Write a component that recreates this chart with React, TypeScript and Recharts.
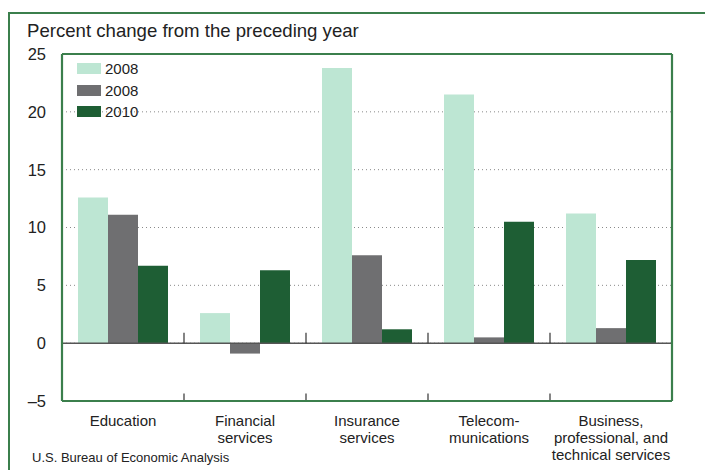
import React from "react";
import {
  BarChart,
  Bar,
  XAxis,
  YAxis,
  CartesianGrid,
  ReferenceLine,
  Legend,
} from "recharts";

const CATEGORIES = [
  "Education",
  "Financial\nservices",
  "Insurance\nservices",
  "Telecom-\nmunications",
  "Business,\nprofessional, and\ntechnical services",
];

const SERIES_A = [12.6, 2.6, 23.8, 21.5, 11.2]; // 2008 (light)
const SERIES_B = [11.1, -0.9, 7.6, 0.5, 1.3]; // 2008 (gray)
const SERIES_C = [6.7, 6.3, 1.2, 10.5, 7.2]; // 2010

const Y_TICKS = [-5, 0, 5, 10, 15, 20, 25];

const SERIES = [
  { key: "a", name: "2008", color: "#bde6d3" },
  { key: "b", name: "2008", color: "#6f6f71" },
  { key: "c", name: "2010", color: "#1e5e34" },
];

const FRAME = "#3b7f4c";
const TEXT = "#222";
const FONT = '"Liberation Sans", Arial, sans-serif';

const data = CATEGORIES.map((name, i) => ({
  name,
  a: SERIES_A[i],
  b: SERIES_B[i],
  c: SERIES_C[i],
}));

const FIRST = CATEGORIES[0];
const LAST = CATEGORIES[CATEGORIES.length - 1];

const CatTick = (props: any) => {
  const { x, y, payload } = props;
  const lines = String(payload.value).split("\n");
  return (
    <text x={x} y={y} textAnchor="middle" fill={TEXT} fontSize={15} fontFamily={FONT}>
      {lines.map((l, i) => (
        <tspan key={i} x={x} dy={i === 0 ? 25 : 17}>
          {l}
        </tspan>
      ))}
    </text>
  );
};

const renderLegend = () => (
  <div style={{ fontFamily: FONT, fontSize: 15, color: TEXT }}>
    {SERIES.map((s, i) => (
      <div
        key={i}
        style={{ display: "flex", alignItems: "center", height: 21.5 }}
      >
        <span
          style={{
            display: "inline-block",
            width: 24,
            height: 11,
            background: s.color,
            marginRight: 4,
          }}
        />
        <span>{s.name}</span>
      </div>
    ))}
  </div>
);

export default function App() {
  return (
    <div
      style={{
        position: "absolute",
        left: 0,
        top: 0,
        width: 705,
        height: 470,
        overflow: "hidden",
        background: "#fff",
        fontFamily: FONT,
      }}
    >
      <div
        style={{
          position: "absolute",
          left: 8,
          top: 12,
          width: 760,
          height: 520,
          border: `2px solid ${FRAME}`,
        }}
      />
      <div style={{ position: "absolute", left: 0, top: 0 }}>
        <BarChart
          width={705}
          height={470}
          data={data}
          margin={{ top: 54, right: 33, bottom: 0, left: 0 }}
          barCategoryGap={16}
          barGap={0}
        >
          <CartesianGrid
            vertical={false}
            stroke="#8a8a8a"
            strokeDasharray="1 3"
          />
          <XAxis
            dataKey="name"
            height={69}
            interval={0}
            tickLine={false}
            tickSize={0}
            tickMargin={0}
            tick={<CatTick />}
            axisLine={false}
          />
          <YAxis
            width={62}
            domain={[-5, 25]}
            ticks={Y_TICKS}
            interval={0}
            tickLine={false}
            tickSize={0}
            tickMargin={16}
            tick={{ fill: TEXT, fontSize: 16.5, fontFamily: FONT }}
            tickFormatter={(v: number) => (v < 0 ? `\u2013${Math.abs(v)}` : `${v}`)}
            axisLine={false}
          />
          <Legend
            layout="vertical"
            align="center"
            verticalAlign="middle"
            wrapperStyle={{ left: 77, top: 58, width: 90 }}
            content={renderLegend}
          />
          {SERIES.map((s) => (
            <Bar
              key={s.key}
              dataKey={s.key}
              name={s.name}
              fill={s.color}
              isAnimationActive={false}
            />
          ))}
          <ReferenceLine y={0} stroke="#555" strokeWidth={1.5} />
          {CATEGORIES.slice(1).map((c) => (
            <ReferenceLine
              key={`bt-${c}`}
              stroke="#333"
              strokeWidth={1.2}
              position="start"
              ifOverflow="visible"
              segment={[
                { x: c, y: -5 },
                { x: c, y: -4.35 },
              ]}
            />
          ))}
          {CATEGORIES.slice(1).map((c) => (
            <ReferenceLine
              key={`zt-${c}`}
              stroke="#333"
              strokeWidth={1.2}
              position="start"
              ifOverflow="visible"
              segment={[
                { x: c, y: 0 },
                { x: c, y: 0.9 },
              ]}
            />
          ))}
          <ReferenceLine y={25} stroke={FRAME} strokeWidth={2.2} />
          <ReferenceLine y={-5} stroke={FRAME} strokeWidth={2.2} />
          <ReferenceLine
            x={FIRST}
            position="start"
            stroke={FRAME}
            strokeWidth={2.2}
            ifOverflow="visible"
          />
          <ReferenceLine
            x={LAST}
            position="end"
            stroke={FRAME}
            strokeWidth={2.2}
            ifOverflow="visible"
          />
        </BarChart>
      </div>
      <div
        style={{
          position: "absolute",
          left: 27,
          top: 22,
          fontSize: 18.6,
          lineHeight: "18px",
          color: TEXT,
          whiteSpace: "nowrap",
        }}
      >
        Percent change from the preceding year
      </div>
      <div
        style={{
          position: "absolute",
          left: 32,
          top: 451,
          fontSize: 13,
          lineHeight: "13px",
          color: TEXT,
          whiteSpace: "nowrap",
        }}
      >
        U.S. Bureau of Economic Analysis
      </div>
    </div>
  );
}
